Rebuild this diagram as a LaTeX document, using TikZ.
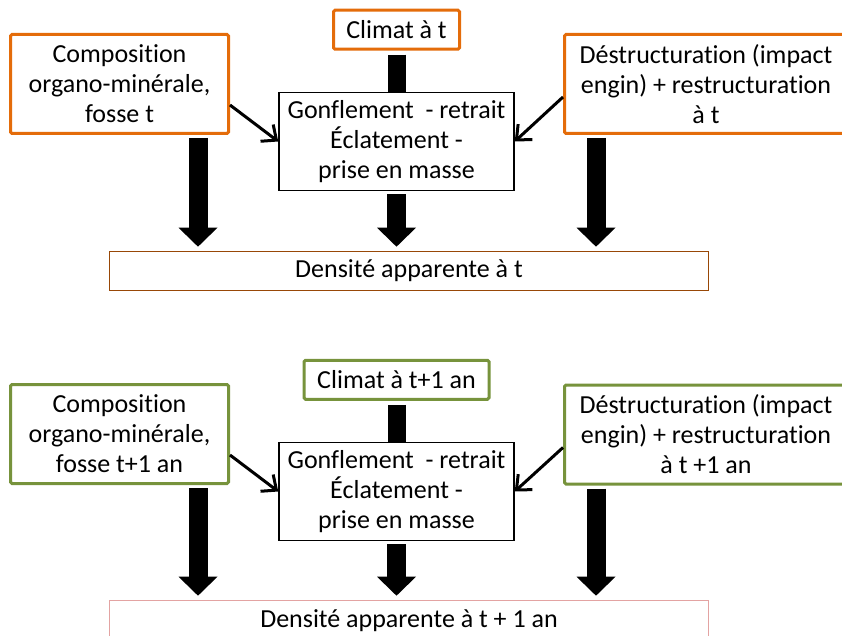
\documentclass[tikz,border=0pt]{standalone}
\usepackage{fontspec}
\setmainfont[Ligatures=NoCommon]{Carlito}
\usetikzlibrary{arrows.meta,positioning,calc}
\definecolor{orangeline}{HTML}{E46C0A}
\definecolor{greenline}{HTML}{77933C}
\definecolor{brownline}{HTML}{984807}
\definecolor{pinkline}{HTML}{E3A3A2}
\tikzset{
  every node/.style={font=\fontsize{26}{30}\selectfont, align=center, inner sep=0pt},
  factor/.style={draw, line width=3pt, rounded corners=1.5pt, fill=white, minimum height=99pt},
  climate/.style={draw, line width=3pt, rounded corners=1.5pt, fill=white, minimum height=39pt},
  process/.style={draw, line width=1.5pt, fill=white, minimum width=235pt, minimum height=98pt},
  density/.style={draw, line width=1.6pt, fill=white, minimum width=599pt, minimum height=39pt},
  bigarrow/.style={line width=19pt, -{Triangle[length=19pt,width=39pt,line width=0pt]}, shorten <=3pt, shorten >=4pt},
  bar/.style={line width=18pt, shorten <=4pt},
  thinarrow/.style={line width=3pt, -{Straight Barb[length=12pt,width=21pt]}}
}

\begin{document}
\begin{tikzpicture}[x=1pt,y=-1pt]
  \useasboundingbox (0,0) rectangle (842,636);

  % instant t
  \node[factor, draw=orangeline, minimum width=218pt] (t1) at (119.5,84) {Composition\\organo-minérale,\\fosse t};
  \node[process] (g1) at (396.5,141.5) {Gonflement~~- retrait\\Éclatement -\\prise en masse};
  \node[climate, draw=orangeline, minimum width=126pt, above=41pt of g1] (t2) {Climat à t};
  \node[factor, draw=orangeline, minimum width=283pt] (t3) at (706,84) {Déstructuration (impact\\engin) + restructuration\\à t};
  \node[density, draw=brownline] (d1) at (409,271) {Densité apparente à t};

  \draw[bar] (t2.south) -- (g1.north);
  \draw[thinarrow] ([yshift=-21pt]t1.east) -- (g1.west);
  \draw[thinarrow] ([yshift=-13pt]t3.west) -- (g1.east);
  \draw[bigarrow] ([xshift=-32pt]t1.south east) -- ([xshift=-32pt]t1.south east |- d1.north);
  \draw[bigarrow] (g1.south) -- (g1.south |- d1.north);
  \draw[bigarrow] ([xshift=33pt]t3.south west) -- ([xshift=33pt]t3.south west |- d1.north);

  % instant t+1 an
  \node[factor, draw=greenline, minimum width=218pt] (b1) at (119.5,434) {Composition\\organo-minérale,\\fosse t+1 an};
  \node[process] (g2) at (396.5,491.5) {Gonflement~~- retrait\\Éclatement -\\prise en masse};
  \node[climate, draw=greenline, minimum width=185pt, above=41pt of g2] (b2) {Climat à t+1 an};
  \node[factor, draw=greenline, minimum width=283pt] (b3) at (706,434.5) {Déstructuration (impact\\engin) + restructuration\\à t +1 an};
  \node[density, draw=pinkline, minimum height=40pt] (d2) at (409,620.5) {Densité apparente à t + 1 an};

  \draw[bar] (b2.south) -- (g2.north);
  \draw[thinarrow] ([yshift=-21pt]b1.east) -- (g2.west);
  \draw[thinarrow] ([yshift=-13pt]b3.west) -- (g2.east);
  \draw[bigarrow] ([xshift=-32pt]b1.south east) -- ([xshift=-32pt]b1.south east |- d2.north);
  \draw[bigarrow] (g2.south) -- (g2.south |- d2.north);
  \draw[bigarrow] ([xshift=33pt]b3.south west) -- ([xshift=33pt]b3.south west |- d2.north);
\end{tikzpicture}
\end{document}
